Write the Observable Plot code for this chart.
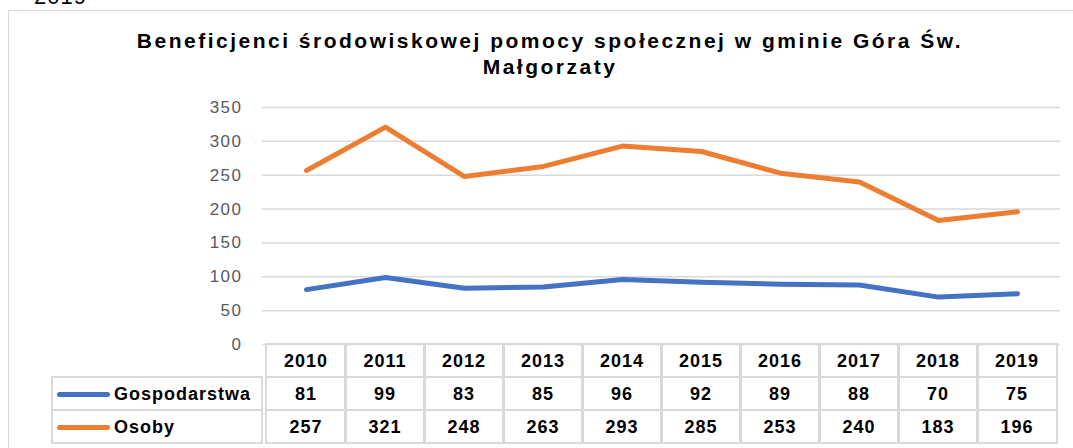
<!DOCTYPE html>
<html>
<head>
<meta charset="utf-8">
<script src="https://cdn.jsdelivr.net/npm/d3@7"></script>
<script src="https://cdn.jsdelivr.net/npm/@observablehq/plot@0.6"></script>
<style>
  html, body { margin:0; padding:0; background:#fff; width:1073px; height:448px; overflow:hidden; }
  body { position:relative; font-family:"Liberation Sans", Arial, sans-serif; }
  #frame { position:absolute; left:8px; top:10px; width:1200px; height:600px; border:1.5px solid #d9d9d9; box-sizing:border-box; }
  #topcut { position:absolute; left:34px; top:-16px; font-size:22px; color:#000; letter-spacing:1px; }
  #title { position:absolute; left:0; width:1100px; top:28px; text-align:center; font-weight:bold; font-size:21px; line-height:26px; letter-spacing:2.5px; color:#000; }
  #chart { position:absolute; left:0; top:95px; }
  #chart svg text { letter-spacing:1.5px; }
  .cell { position:absolute; box-sizing:border-box; border:2px solid #d9d9d9; font-weight:bold; font-size:18px; letter-spacing:1px; color:#000; display:flex; align-items:center; justify-content:center; padding-top:1px; }
  .leg { justify-content:flex-start; letter-spacing:1px; }
  .swatch { display:inline-block; width:53px; height:5px; border-radius:3px; margin-left:4px; margin-right:4px; }
</style>
</head>
<body>
<div id="topcut">2019</div>
<div id="frame"></div>
<div id="title">Beneficjenci środowiskowej pomocy społecznej w gminie Góra Św.<br>Małgorzaty</div>
<div id="chart"></div>
<div id="table"></div>
<script>
const years = ["2010","2011","2012","2013","2014","2015","2016","2017","2018","2019"];
const gospodarstwa = [81, 99, 83, 85, 96, 92, 89, 88, 70, 75];
const osoby = [257, 321, 248, 263, 293, 285, 253, 240, 183, 196];
const seriesNames = ["Gospodarstwa", "Osoby"];
const seriesColors = ["#4472c4", "#ed7d31"];
const yTicks = [0, 50, 100, 150, 200, 250, 300, 350];

const seriesValues = [gospodarstwa, osoby];
const data = seriesNames.flatMap((s, k) => years.map((yr, i) => ({year: yr, series: s, value: seriesValues[k][i]})));

const W = 1073, mL = 262, mR = 13, svgTop = 95, H = 250, mT = 12, mB = 1;

const chart = Plot.plot({
  width: W, height: H,
  marginTop: mT, marginBottom: mB, marginLeft: mL, marginRight: mR,
  style: {fontFamily: "Liberation Sans, Arial, sans-serif", background: "transparent", overflow: "visible"},
  x: {type: "point", domain: years, padding: 0.5, axis: null},
  y: {domain: [0, 350]},
  color: {domain: seriesNames, range: seriesColors},
  marks: [
    Plot.gridY(yTicks, {stroke: "#d9d9d9", strokeOpacity: 1, strokeWidth: 1.5}),
    Plot.axisY(yTicks, {tickSize: 0, tickPadding: 20, fontSize: 17, fill: "#595959", label: null}),
    Plot.lineY(data, {x: "year", y: "value", z: "series", stroke: "series", strokeWidth: 5, strokeLinecap: "round", strokeLinejoin: "round"})
  ]
});
document.getElementById("chart").appendChild(chart);

// Data table below the plot, aligned to the x scale
const xs = chart.scale("x");
const step = (W - mL - mR) / years.length;
const tableTop = svgTop + H - mB - 1; // y of value 0
const rowH = 33;
const legendLeft = 51;
const table = d3.select("#table");
years.forEach((yr, i) => {
  const cx = xs.apply(yr);
  table.append("div").attr("class", "cell")
    .style("left", (cx - step / 2 - 1) + "px").style("top", tableTop + "px")
    .style("width", (step + 2) + "px").style("height", (rowH + 2) + "px")
    .text(yr);
});
seriesNames.forEach((s, k) => {
  const top = tableTop + rowH * (k + 1);
  const leg = table.append("div").attr("class", "cell leg")
    .style("left", legendLeft + "px").style("top", top + "px")
    .style("width", (mL - legendLeft + 1) + "px").style("height", (rowH + 2) + "px");
  leg.append("span").attr("class", "swatch").style("background", seriesColors[k]);
  leg.append("span").text(s);
  years.forEach((yr, i) => {
    const cx = xs.apply(yr);
    table.append("div").attr("class", "cell")
      .style("left", (cx - step / 2 - 1) + "px").style("top", top + "px")
      .style("width", (step + 2) + "px").style("height", (rowH + 2) + "px")
      .text(seriesValues[k][i]);
  });
});
</script>
</body>
</html>
